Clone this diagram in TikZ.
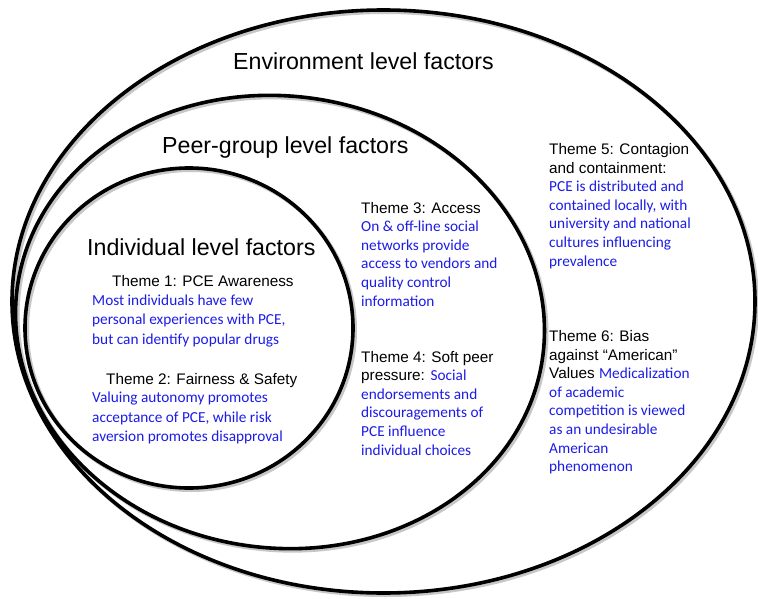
\documentclass[tikz,border=0pt]{standalone}
\usepackage{fontspec}
\newfontfamily\hdfont{Liberation Sans}
\newfontfamily\blfont{Carlito}
\definecolor{txtblue}{RGB}{28,28,232}
\newcommand{\bl}[1]{{\blfont\color{txtblue}#1}}
\tikzset{
  ring/.style={draw=black, line width=3.6pt},
  ringshadow/.style={draw=black!22, line width=4pt},
  leveltitle/.style={font=\hdfont\fontsize{23.2}{27}\selectfont, anchor=base west, inner sep=0pt},
  leftblock/.style={font=\hdfont\fontsize{15.3}{19.4}\selectfont, anchor=base west, inner sep=0pt, align=left},
  rightblock/.style={font=\hdfont\fontsize{15.3}{18.6}\selectfont, anchor=base west, inner sep=0pt, align=left},
}
\begin{document}
\begin{tikzpicture}[x=1pt,y=-1pt]
\useasboundingbox[fill=white] (0,0) rectangle (758,599);
% shadows
\draw[ringshadow] (385.5,303.5) ellipse [x radius=371.5, y radius=291.5];
\draw[ringshadow, rotate around={-7:(282,324)}] (282,324) ellipse [x radius=265, y radius=226];
\draw[ringshadow] (191,330) ellipse [x radius=164, y radius=160];
% rings
\draw[ring] (383.5,301.5) ellipse [x radius=371.5, y radius=291.5];
\draw[ring, rotate around={-7:(280,322)}] (280,322) ellipse [x radius=265, y radius=226];
\draw[ring] (189,328) ellipse [x radius=164, y radius=160];
% level titles
\node[leveltitle] (env) at (233,69.3) {Environment level factors};
\node[leveltitle] (peer) at (162,154) {Peer-group level factors};
\node[leveltitle] (ind) at (87,255) {Individual level factors};
% theme 1 (anchors are at the baseline of the last line)
\node[leftblock] (t1h) at (112,286) {Theme 1: PCE Awareness};
\node[leftblock] (t1b) at (92,344.3) {\bl{Most individuals have few}\\\bl{personal experiences with PCE,}\\\bl{but can identify popular drugs}};
% theme 2
\node[leftblock] (t2h) at (106,384) {Theme 2: Fairness \& Safety};
\node[leftblock] (t2b) at (92,441.7) {\bl{Valuing autonomy promotes}\\\bl{acceptance of PCE, while risk}\\\bl{aversion promotes disapproval}};
% theme 3
\node[rightblock] (t3) at (361,306) {Theme 3: Access\\\bl{On \& off-line social}\\\bl{networks provide}\\\bl{access to vendors and}\\\bl{quality control}\\\bl{information}};
% theme 4
\node[rightblock] (t4) at (361,455) {Theme 4: Soft peer\\pressure: \bl{Social}\\\bl{endorsements and}\\\bl{discouragements of}\\\bl{PCE influence}\\\bl{individual choices}};
% theme 5
\node[rightblock] (t5) at (549,266) {Theme 5: Contagion\\and containment:\\\bl{PCE is distributed and}\\\bl{contained locally, with}\\\bl{university and national}\\\bl{cultures influencing}\\\bl{prevalence}};
% theme 6
\node[rightblock] (t6) at (549,471.7) {Theme 6: Bias\\against “American”\\Values \bl{Medicalization}\\\bl{of academic}\\\bl{competition is viewed}\\\bl{as an undesirable}\\\bl{American}\\\bl{phenomenon}};
\end{tikzpicture}
\end{document}
